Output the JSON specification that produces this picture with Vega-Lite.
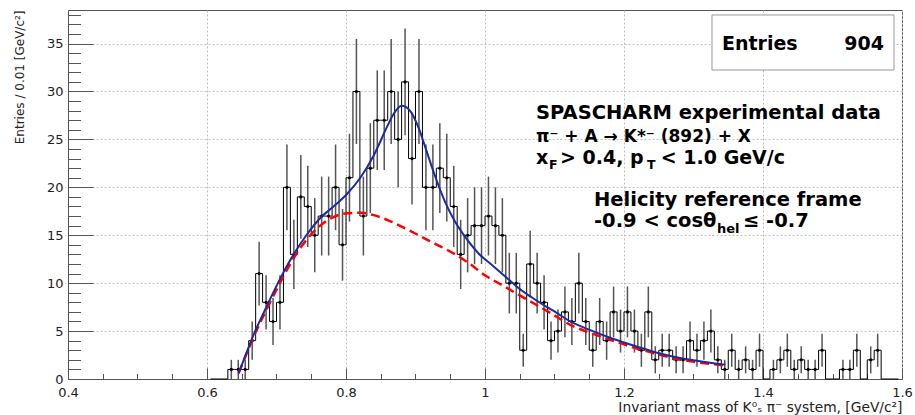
{
  "$schema": "https://vega.github.io/schema/vega-lite/v6.json",
  "width": 834,
  "height": 369,
  "autosize": {"type": "none"},
  "padding": {"left": 68, "top": 10, "right": 13, "bottom": 36},
  "background": "white",
  "config": {"view": {"stroke": "#555", "strokeWidth": 1}, "font": "DejaVu Sans"},
  "datasets": {
    "hist": [
      {"m":0.605,"n":0,"e":0},{"m":0.615,"n":0,"e":0},{"m":0.625,"n":0,"e":0},{"m":0.635,"n":1,"e":1},{"m":0.645,"n":1,"e":1},
      {"m":0.655,"n":1,"e":1},{"m":0.665,"n":4,"e":2},{"m":0.675,"n":11,"e":3.32},{"m":0.685,"n":8,"e":2.83},{"m":0.695,"n":6,"e":2.45},
      {"m":0.705,"n":8,"e":2.83},{"m":0.715,"n":20,"e":4.47},{"m":0.725,"n":13,"e":3.61},{"m":0.735,"n":19,"e":4.36},{"m":0.745,"n":18,"e":4.24},
      {"m":0.755,"n":15,"e":3.87},{"m":0.765,"n":17,"e":4.12},{"m":0.775,"n":17,"e":4.12},{"m":0.785,"n":20,"e":4.47},{"m":0.795,"n":14,"e":3.74},
      {"m":0.805,"n":21,"e":4.58},{"m":0.815,"n":30,"e":5.48},{"m":0.825,"n":17,"e":4.12},{"m":0.835,"n":22,"e":4.69},{"m":0.845,"n":27,"e":5.2},
      {"m":0.855,"n":27,"e":5.2},{"m":0.865,"n":30,"e":5.48},{"m":0.875,"n":25,"e":5},{"m":0.885,"n":31,"e":5.57},{"m":0.895,"n":23,"e":4.8},
      {"m":0.905,"n":30,"e":5.48},{"m":0.915,"n":20,"e":4.47},{"m":0.925,"n":20,"e":4.47},{"m":0.935,"n":22,"e":4.69},{"m":0.945,"n":21,"e":4.58},
      {"m":0.955,"n":18,"e":4.24},{"m":0.965,"n":13,"e":3.61},{"m":0.975,"n":15,"e":3.87},{"m":0.985,"n":16,"e":4},{"m":0.995,"n":16,"e":4},
      {"m":1.005,"n":17,"e":4.12},{"m":1.015,"n":16,"e":4},{"m":1.025,"n":15,"e":3.87},{"m":1.035,"n":10,"e":3.16},{"m":1.045,"n":10,"e":3.16},
      {"m":1.055,"n":3,"e":1.73},{"m":1.065,"n":12,"e":3.46},{"m":1.075,"n":10,"e":3.16},{"m":1.085,"n":8,"e":2.83},{"m":1.095,"n":4,"e":2},
      {"m":1.105,"n":5,"e":2.24},{"m":1.115,"n":7,"e":2.65},{"m":1.125,"n":6,"e":2.45},{"m":1.135,"n":10,"e":3.16},{"m":1.145,"n":6,"e":2.45},
      {"m":1.155,"n":3,"e":1.73},{"m":1.165,"n":6,"e":2.45},{"m":1.175,"n":4,"e":2},{"m":1.185,"n":7,"e":2.65},{"m":1.195,"n":5,"e":2.24},
      {"m":1.205,"n":7,"e":2.65},{"m":1.215,"n":5,"e":2.24},{"m":1.225,"n":3,"e":1.73},{"m":1.235,"n":7,"e":2.65},{"m":1.245,"n":2,"e":1.41},
      {"m":1.255,"n":3,"e":1.73},{"m":1.265,"n":3,"e":1.73},{"m":1.275,"n":2,"e":1.41},{"m":1.285,"n":2,"e":1.41},{"m":1.295,"n":4,"e":2},
      {"m":1.305,"n":3,"e":1.73},{"m":1.315,"n":4,"e":2},{"m":1.325,"n":5,"e":2.24},{"m":1.335,"n":2,"e":1.41},{"m":1.345,"n":1,"e":1},
      {"m":1.355,"n":3,"e":1.73},{"m":1.365,"n":1,"e":1},{"m":1.375,"n":2,"e":1.41},{"m":1.385,"n":1,"e":1},{"m":1.395,"n":3,"e":1.73},
      {"m":1.405,"n":0,"e":0},{"m":1.415,"n":1,"e":1},{"m":1.425,"n":2,"e":1.41},{"m":1.435,"n":3,"e":1.73},{"m":1.445,"n":1,"e":1},
      {"m":1.455,"n":2,"e":1.41},{"m":1.465,"n":1,"e":1},{"m":1.475,"n":1,"e":1},{"m":1.485,"n":3,"e":1.73},{"m":1.495,"n":0,"e":0},
      {"m":1.505,"n":0,"e":0},{"m":1.515,"n":1,"e":1},{"m":1.525,"n":1,"e":1},{"m":1.535,"n":3,"e":1.73},{"m":1.545,"n":0,"e":0},
      {"m":1.555,"n":2,"e":1.41},{"m":1.565,"n":3,"e":1.73},{"m":1.575,"n":0,"e":0},{"m":1.585,"n":0,"e":0},{"m":1.595,"n":0,"e":0}
    ],
    "fit": [
      {"m":0.6455,"v":0.6},{"m":0.655,"v":2.4},{"m":0.667,"v":4.6},{"m":0.686,"v":7.6},{"m":0.7055,"v":10.5},{"m":0.7246,"v":13.0},
      {"m":0.744,"v":15.1},{"m":0.763,"v":16.8},{"m":0.782,"v":18.0},{"m":0.8014,"v":19.3},{"m":0.8206,"v":21.0},{"m":0.8397,"v":23.3},
      {"m":0.859,"v":26.3},{"m":0.868,"v":27.6},{"m":0.8806,"v":28.5},{"m":0.893,"v":27.9},{"m":0.9045,"v":26.2},{"m":0.914,"v":24.2},
      {"m":0.9285,"v":21.1},{"m":0.943,"v":18.4},{"m":0.957,"v":16.4},{"m":0.9717,"v":14.8},{"m":0.9908,"v":13.1},{"m":1.010,"v":11.9},
      {"m":1.029,"v":10.7},{"m":1.048,"v":9.5},{"m":1.0676,"v":8.5},{"m":1.0868,"v":7.6},{"m":1.101,"v":7.0},{"m":1.1227,"v":6.0},
      {"m":1.1515,"v":5.1},{"m":1.180,"v":4.3},{"m":1.209,"v":3.6},{"m":1.2378,"v":2.95},{"m":1.2665,"v":2.4},{"m":1.2955,"v":2.0},
      {"m":1.3338,"v":1.6},{"m":1.3458,"v":1.5}
    ],
    "bkg": [
      {"m":0.6455,"v":0.6},{"m":0.655,"v":2.3},{"m":0.667,"v":4.4},{"m":0.686,"v":7.3},{"m":0.7055,"v":10.1},{"m":0.7246,"v":12.6},
      {"m":0.744,"v":14.6},{"m":0.763,"v":16.0},{"m":0.782,"v":16.9},{"m":0.8014,"v":17.3},{"m":0.8206,"v":17.35},{"m":0.8397,"v":17.1},
      {"m":0.8626,"v":16.5},{"m":0.880,"v":15.9},{"m":0.9045,"v":15.0},{"m":0.9285,"v":14.1},{"m":0.9525,"v":13.2},{"m":0.9765,"v":12.1},
      {"m":1.0004,"v":10.8},{"m":1.0245,"v":9.8},{"m":1.048,"v":8.8},{"m":1.0724,"v":7.8},{"m":1.094,"v":6.9},{"m":1.1227,"v":5.65},
      {"m":1.1515,"v":4.8},{"m":1.180,"v":4.1},{"m":1.209,"v":3.4},{"m":1.2378,"v":2.8},{"m":1.2665,"v":2.25},{"m":1.2955,"v":1.85},
      {"m":1.3338,"v":1.5},{"m":1.3458,"v":1.4}
    ]
  },
  "resolve": {"axis": {"x": "independent", "y": "independent"}},
  "layer": [
    {
      "data": {"name": "hist"},
      "mark": {"type": "line", "interpolate": "step", "stroke": "#000", "strokeWidth": 1},
      "encoding": {
        "x": {"field": "m", "type": "quantitative",
          "scale": {"domain": [0.4, 1.6], "nice": false, "zero": false},
          "axis": {"orient": "bottom", "values": [0.4, 0.6, 0.8, 1, 1.2, 1.4, 1.6], "format": "~g",
            "grid": true, "gridColor": "#bdbdbd", "gridDash": [2, 2], "gridWidth": 1,
            "tickSize": -11, "tickColor": "#555", "domainColor": "#555",
            "labelFont": "DejaVu Sans", "labelFontSize": 13, "labelColor": "#222", "labelPadding": 18, "labelFlush": false,
            "title": "Invariant mass of K⁰ₛ π⁻ system, [GeV/c²]", "titleFont": "DejaVu Sans", "titleFontSize": 13.8,
            "titleFontWeight": "normal", "titleColor": "#222", "titleAnchor": "end", "titleAlign": "right", "titlePadding": 1}},
        "y": {"field": "n", "type": "quantitative",
          "scale": {"domain": [0, 38.5], "nice": false, "zero": true},
          "axis": {"orient": "left", "values": [0, 5, 10, 15, 20, 25, 30, 35],
            "grid": true, "gridColor": "#bdbdbd", "gridDash": [2, 2], "gridWidth": 1,
            "tickSize": -25, "tickColor": "#555", "domainColor": "#555",
            "labelFont": "DejaVu Sans", "labelFontSize": 13, "labelColor": "#222", "labelPadding": 30,
            "title": "Entries / 0.01 [GeV/c²]", "titleFont": "DejaVu Sans", "titleFontSize": 12,
            "titleFontWeight": "normal", "titleColor": "#222", "titleAnchor": "end", "titlePadding": 20}}
      }
    },
    {
      "data": {"name": "hist"},
      "mark": {"type": "point", "opacity": 0},
      "encoding": {
        "x": {"field": "m", "type": "quantitative",
          "axis": {"orient": "bottom", "values": [0.45, 0.5, 0.55, 0.65, 0.7, 0.75, 0.85, 0.9, 0.95, 1.05, 1.1, 1.15, 1.25, 1.3, 1.35, 1.45, 1.5, 1.55],
            "labels": false, "domain": false, "grid": false, "tickSize": -5.5, "tickColor": "#555", "title": null}},
        "y": {"field": "n", "type": "quantitative",
          "axis": {"orient": "left", "values": [1, 2, 3, 4, 6, 7, 8, 9, 11, 12, 13, 14, 16, 17, 18, 19, 21, 22, 23, 24, 26, 27, 28, 29, 31, 32, 33, 34, 36, 37, 38],
            "labels": false, "domain": false, "grid": false, "tickSize": -12.5, "tickColor": "#555", "title": null}}
      }
    },
    {
      "data": {"name": "hist"},
      "transform": [{"filter": "datum.n > 0"}],
      "mark": {"type": "errorbar", "ticks": false, "rule": {"stroke": "#555", "strokeWidth": 1.5}},
      "encoding": {
        "x": {"field": "m", "type": "quantitative", "axis": null},
        "y": {"field": "n", "type": "quantitative", "axis": null},
        "yError": {"field": "e"}
      }
    },
    {
      "data": {"name": "hist"},
      "transform": [{"filter": "datum.n > 0"}],
      "mark": {"type": "point", "filled": true, "size": 10, "color": "#000", "opacity": 1},
      "encoding": {
        "x": {"field": "m", "type": "quantitative", "axis": null},
        "y": {"field": "n", "type": "quantitative", "axis": null}
      }
    },
    {
      "data": {"name": "bkg"},
      "mark": {"type": "line", "interpolate": "monotone", "stroke": "#ff0000", "strokeWidth": 2.5, "strokeDash": [9, 5]},
      "encoding": {
        "x": {"field": "m", "type": "quantitative", "axis": null},
        "y": {"field": "v", "type": "quantitative", "axis": null}
      }
    },
    {
      "data": {"name": "fit"},
      "mark": {"type": "line", "interpolate": "monotone", "stroke": "#1c2ba0", "strokeWidth": 2},
      "encoding": {
        "x": {"field": "m", "type": "quantitative", "axis": null},
        "y": {"field": "v", "type": "quantitative", "axis": null}
      }
    },
    {
      "data": {"values": [{}]},
      "mark": {"type": "rect", "fill": "white", "stroke": "#999", "strokeWidth": 1},
      "encoding": {
        "x": {"datum": 1.3266, "type": "quantitative", "axis": null},
        "x2": {"datum": 1.5885},
        "y": {"datum": 37.98, "type": "quantitative", "axis": null},
        "y2": {"datum": 32.24}
      }
    },
    {
      "data": {"values": [{}]},
      "mark": {"type": "text", "text": "Entries", "font": "DejaVu Sans", "fontWeight": "bold", "fontSize": 19, "align": "left", "baseline": "alphabetic", "color": "#000"},
      "encoding": {"x": {"datum": 1.341, "type": "quantitative", "axis": null}, "y": {"datum": 34.33, "type": "quantitative", "axis": null}}
    },
    {
      "data": {"values": [{}]},
      "mark": {"type": "text", "text": "904", "font": "DejaVu Sans", "fontWeight": "bold", "fontSize": 19, "align": "right", "baseline": "alphabetic", "color": "#000"},
      "encoding": {"x": {"datum": 1.5741, "type": "quantitative", "axis": null}, "y": {"datum": 34.33, "type": "quantitative", "axis": null}}
    },
    {
      "data": {"values": [{}]},
      "mark": {"type": "text", "text": "SPASCHARM experimental data", "font": "DejaVu Sans", "fontWeight": "bold", "fontSize": 19.5, "align": "left", "baseline": "alphabetic", "color": "#000"},
      "encoding": {"x": {"datum": 1.0734, "type": "quantitative", "axis": null}, "y": {"datum": 27.13, "type": "quantitative", "axis": null}}
    },
    {
      "data": {"values": [{}]},
      "mark": {"type": "text", "text": "π⁻ + A → K*⁻ (892) + X", "font": "DejaVu Sans", "fontWeight": "bold", "fontSize": 17, "align": "left", "baseline": "alphabetic", "color": "#000"},
      "encoding": {"x": {"datum": 1.0734, "type": "quantitative", "axis": null}, "y": {"datum": 24.73, "type": "quantitative", "axis": null}}
    },
    {
      "data": {"values": [{}]},
      "mark": {"type": "text", "text": "x", "font": "DejaVu Sans", "fontWeight": "bold", "fontSize": 19, "align": "left", "baseline": "alphabetic", "color": "#000"},
      "encoding": {"x": {"datum": 1.0734, "type": "quantitative", "axis": null}, "y": {"datum": 22.43, "type": "quantitative", "axis": null}}
    },
    {
      "data": {"values": [{}]},
      "mark": {"type": "text", "text": "F", "font": "DejaVu Sans", "fontWeight": "bold", "fontSize": 12.5, "align": "left", "baseline": "alphabetic", "color": "#000"},
      "encoding": {"x": {"datum": 1.0921, "type": "quantitative", "axis": null}, "y": {"datum": 21.91, "type": "quantitative", "axis": null}}
    },
    {
      "data": {"values": [{}]},
      "mark": {"type": "text", "text": "> 0.4, p", "font": "DejaVu Sans", "fontWeight": "bold", "fontSize": 19, "align": "left", "baseline": "alphabetic", "color": "#000"},
      "encoding": {"x": {"datum": 1.1079, "type": "quantitative", "axis": null}, "y": {"datum": 22.43, "type": "quantitative", "axis": null}}
    },
    {
      "data": {"values": [{}]},
      "mark": {"type": "text", "text": "T", "font": "DejaVu Sans", "fontWeight": "bold", "fontSize": 12.5, "align": "left", "baseline": "alphabetic", "color": "#000"},
      "encoding": {"x": {"datum": 1.2330, "type": "quantitative", "axis": null}, "y": {"datum": 21.91, "type": "quantitative", "axis": null}}
    },
    {
      "data": {"values": [{}]},
      "mark": {"type": "text", "text": "< 1.0 GeV/c", "font": "DejaVu Sans", "fontWeight": "bold", "fontSize": 19, "align": "left", "baseline": "alphabetic", "color": "#000"},
      "encoding": {"x": {"datum": 1.2530, "type": "quantitative", "axis": null}, "y": {"datum": 22.43, "type": "quantitative", "axis": null}}
    },
    {
      "data": {"values": [{}]},
      "mark": {"type": "text", "text": "Helicity reference frame", "font": "DejaVu Sans", "fontWeight": "bold", "fontSize": 19.5, "align": "left", "baseline": "alphabetic", "color": "#000"},
      "encoding": {"x": {"datum": 1.1568, "type": "quantitative", "axis": null}, "y": {"datum": 18.05, "type": "quantitative", "axis": null}}
    },
    {
      "data": {"values": [{}]},
      "mark": {"type": "text", "text": "-0.9 < cosθ", "font": "DejaVu Sans", "fontWeight": "bold", "fontSize": 19.5, "align": "left", "baseline": "alphabetic", "color": "#000"},
      "encoding": {"x": {"datum": 1.1568, "type": "quantitative", "axis": null}, "y": {"datum": 15.86, "type": "quantitative", "axis": null}}
    },
    {
      "data": {"values": [{}]},
      "mark": {"type": "text", "text": "hel", "font": "DejaVu Sans", "fontWeight": "bold", "fontSize": 13, "align": "left", "baseline": "alphabetic", "color": "#000"},
      "encoding": {"x": {"datum": 1.3338, "type": "quantitative", "axis": null}, "y": {"datum": 15.23, "type": "quantitative", "axis": null}}
    },
    {
      "data": {"values": [{}]},
      "mark": {"type": "text", "text": "≤ -0.7", "font": "DejaVu Sans", "fontWeight": "bold", "fontSize": 19.5, "align": "left", "baseline": "alphabetic", "color": "#000"},
      "encoding": {"x": {"datum": 1.3712, "type": "quantitative", "axis": null}, "y": {"datum": 15.86, "type": "quantitative", "axis": null}}
    }
  ]
}
